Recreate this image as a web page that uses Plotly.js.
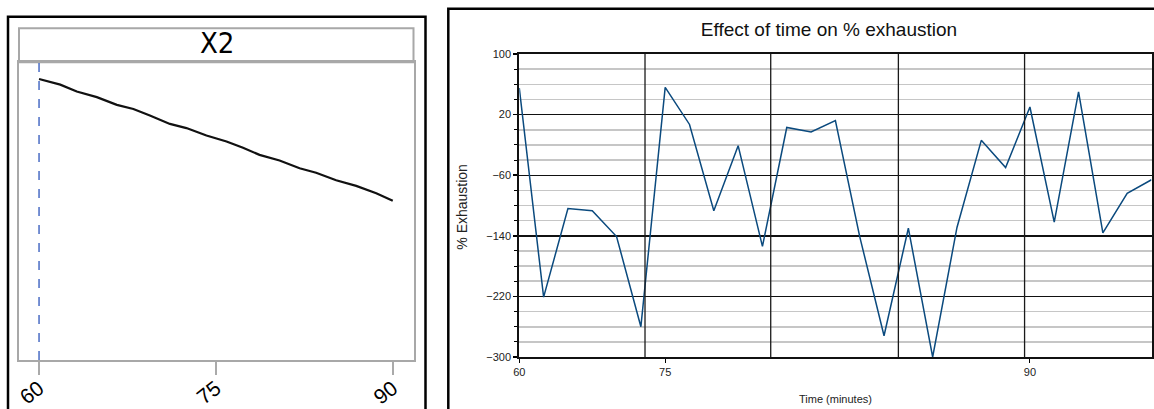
<!DOCTYPE html>
<html>
<head>
<meta charset="utf-8">
<script src="https://cdn.plot.ly/plotly-3.0.1.min.js"></script>
<style>
html,body{margin:0;padding:0;background:#fff;}
#chart{width:1154px;height:409px;}
</style>
</head>
<body>
<div id="chart"></div>
<script>
// ---- Left panel (X2 profile) ----
const x2Time = [60, 61.8, 63.2, 64.9, 66.6, 68.0, 69.4, 71.1, 72.5, 74.2, 75.9, 77.3, 78.7, 80.4, 82.1, 83.5, 85.2, 86.9, 88.6, 90];
const x2Response = [94.4, 92.5, 90.2, 88.3, 85.7, 84.3, 82.1, 79.3, 77.9, 75.4, 73.4, 71.3, 68.9, 67.0, 64.4, 62.9, 60.4, 58.5, 56.0, 53.5];
const x2TickVals = [60, 75, 90];
const x2TickText = ['60', '75', '90'];
const x2Current = 60;

// ---- Right panel (Effect of time on % exhaustion) ----
const sampleNo = [1, 2, 3, 4, 5, 6, 7, 8, 9, 10, 11, 12, 13, 14, 15, 16, 17, 18, 19, 20, 21, 22, 23, 24, 25, 26, 27];
const exhaustion = [55, -221, -104, -107, -141, -260, 56, 7, -107, -21, -154, 3, -3, 12, -141, -272, -130, -300, -129, -14, -50, 30, -122, 50, -136, -84, -66];
const timeTickAt = [1, 7, 22];
const timeTickText = ['60', '75', '90'];
const timeGridAt = [6.17, 11.34, 16.59, 21.78];

const W = 1154, H = 409;
const px = v => v / W;
const py = v => 1 - v / H;

const traces = [
  {x: x2Time, y: x2Response, type: 'scatter', mode: 'lines', xaxis: 'x', yaxis: 'y',
   line: {color: '#111', width: 2.2}, hoverinfo: 'skip'},
  {x: sampleNo, y: exhaustion, type: 'scatter', mode: 'lines', xaxis: 'x2', yaxis: 'y2',
   line: {color: '#0b4a7e', width: 1.5}, hoverinfo: 'skip'}
];

const shapes = [
  // outer frames
  {type: 'rect', xref: 'paper', yref: 'paper', x0: px(8), x1: px(425.5), y0: -0.05, y1: py(16.7),
   line: {color: '#000', width: 2.5}, layer: 'above'},
  {type: 'rect', xref: 'paper', yref: 'paper', x0: px(448.3), x1: 1.05, y0: -0.05, y1: py(8.7),
   line: {color: '#000', width: 2.5}, layer: 'above'},
  // X2 header box
  {type: 'rect', xref: 'paper', yref: 'paper', x0: px(19), x1: px(413.5), y0: py(62.3), y1: py(28.3),
   line: {color: '#a8a8a8', width: 2}},
  // current value dashed line
  {type: 'line', xref: 'x', yref: 'y domain', x0: x2Current, x1: x2Current, y0: 0, y1: 1,
   line: {color: '#4a6cc4', width: 1.5, dash: 'dash'}}
];
timeGridAt.forEach(g => shapes.push({
  type: 'line', xref: 'x2', yref: 'y2 domain', x0: g, x1: g, y0: 0, y1: 1,
  line: {color: '#1a1a1a', width: 1.3}, layer: 'above'
}));

const layout = {
  width: W, height: H,
  margin: {l: 0, r: 0, t: 0, b: 0},
  paper_bgcolor: '#fff', plot_bgcolor: '#fff',
  showlegend: false,
  font: {family: 'Liberation Sans, Arial, sans-serif', color: '#222'},
  title: {text: 'Effect of time on % exhaustion', x: px(829), xref: 'paper', xanchor: 'center',
          y: py(29), yref: 'paper', yanchor: 'middle',
          font: {family: 'Liberation Sans, Arial, sans-serif', size: 19, color: '#111'}},
  xaxis: {domain: [px(19), px(413.5)], range: [58.3, 91.76], anchor: 'y',
          tickvals: x2TickVals, ticktext: x2TickText, ticks: 'outside', ticklen: 13, tickwidth: 2,
          tickcolor: '#aaa', tickangle: -38, ticklabelstandoff: -7,
          tickfont: {family: 'Liberation Sans, Arial, sans-serif', size: 21, color: '#000'},
          showgrid: false, zeroline: false, showline: true, mirror: true, linecolor: '#a8a8a8', linewidth: 2},
  yaxis: {domain: [py(360), py(62.3)], range: [0, 100], anchor: 'x',
          showticklabels: false, ticks: '', showgrid: false, zeroline: false,
          showline: true, mirror: true, linecolor: '#a8a8a8', linewidth: 2},
  xaxis2: {domain: [px(519.3), px(1151.5)], range: [1, 27], anchor: 'y2',
           tickvals: timeTickAt, ticktext: timeTickText, ticks: 'outside', ticklen: 4, tickwidth: 1,
           tickcolor: '#000', tickfont: {size: 11, color: '#222'},
           showgrid: false, zeroline: false, showline: true, mirror: true, linecolor: '#111', linewidth: 2},
  yaxis2: {domain: [py(357), py(54)], range: [-300, 100], anchor: 'x2',
           tick0: -300, dtick: 80, ticks: 'outside', ticklen: 4, tickwidth: 1.5, tickcolor: '#000',
           tickfont: {size: 11, color: '#222'},
           showgrid: true, gridcolor: '#111', gridwidth: 1.4, zeroline: false,
           showline: true, mirror: true, linecolor: '#111', linewidth: 2,
           minor: {tick0: -300, dtick: 20, showgrid: true, gridcolor: '#c6c6c6', gridwidth: 1.6,
                   ticks: 'outside', ticklen: 3, tickcolor: '#000', tickwidth: 1}},
  shapes: shapes,
  annotations: [
    {text: 'X2', xref: 'paper', yref: 'paper', x: px(216.5), y: py(43), xanchor: 'center', yanchor: 'middle',
     showarrow: false, font: {family: 'DejaVu Sans Condensed, Liberation Sans Narrow, sans-serif', size: 29, color: '#000'}},
    {text: '% Exhaustion', xref: 'paper', yref: 'paper', x: px(462), y: py(206.7), xanchor: 'center', yanchor: 'middle',
     textangle: -90, showarrow: false, font: {size: 14, color: '#222'}},
    {text: 'Time (minutes)', xref: 'paper', yref: 'paper', x: px(835), y: py(398.5), xanchor: 'center', yanchor: 'middle',
     showarrow: false, font: {size: 11, color: '#222'}}
  ]
};

Plotly.newPlot('chart', traces, layout, {staticPlot: true, displayModeBar: false});
</script>
</body>
</html>
